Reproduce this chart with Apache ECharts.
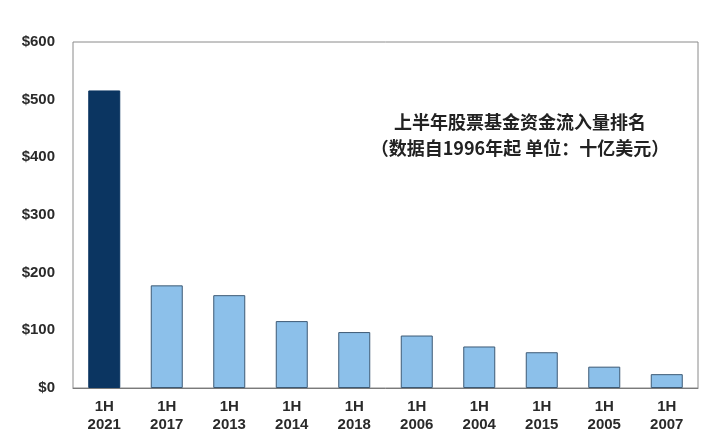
<!DOCTYPE html>
<html>
<head>
<meta charset="utf-8">
<script src="https://cdn.jsdelivr.net/npm/echarts@6/dist/echarts.min.js"></script>
<style>html,body{margin:0;padding:0;background:#fff}#c{width:715px;height:442px}</style>
</head>
<body>
<div id="c"></div>
<script>
var categories = ['1H\n2021','1H\n2017','1H\n2013','1H\n2014','1H\n2018','1H\n2006','1H\n2004','1H\n2015','1H\n2005','1H\n2007'];
var inflows = [516, 178, 161, 116, 97, 91, 72, 62, 37, 24];
var yTicks = [0, 100, 200, 300, 400, 500, 600];
var highlightIndex = 0;

var chart = echarts.init(document.getElementById('c'));
chart.setOption({
  backgroundColor: '#fff',
  animation: false,
  title: {
    text: '上半年股票基金资金流入量排名\n（数据自1996年起 单位：十亿美元）',
    left: 515, top: 104, textAlign: 'center',
    textStyle: {
      fontFamily: '"Noto Sans CJK SC", sans-serif', fontWeight: 'bold',
      fontSize: 18, lineHeight: 26, color: '#222'
    }
  },
  grid: {
    left: 73, right: 17, top: 42, bottom: 54,
    show: true, borderColor: '#8a8a8a', borderWidth: 1, backgroundColor: '#fff'
  },
  xAxis: {
    type: 'category',
    data: categories,
    axisLine: { show: true, lineStyle: { color: '#7a7a7a', width: 1 } },
    axisTick: { show: false },
    axisLabel: {
      margin: 10, fontFamily: 'Liberation Sans, Arial, sans-serif', fontWeight: 'bold',
      fontSize: 15, lineHeight: 18, color: '#2a2a2a', interval: 0
    }
  },
  yAxis: {
    type: 'value', min: yTicks[0], max: yTicks[yTicks.length - 1], interval: 100,
    splitLine: { show: false },
    axisLine: { show: false }, axisTick: { show: false },
    axisLabel: {
      margin: 18, fontFamily: 'Liberation Sans, Arial, sans-serif', fontWeight: 'bold',
      fontSize: 15, color: '#2a2a2a',
      formatter: function (v) { return '$' + v; }
    }
  },
  series: [{
    type: 'bar',
    data: inflows.map(function (v, i) {
      return i === highlightIndex
        ? { value: v, itemStyle: { color: '#0b3561', borderColor: '#0b3561' } }
        : { value: v };
    }),
    barWidth: 32,
    itemStyle: { color: '#8cc0ea', borderColor: '#3d5a75', borderWidth: 1 }
  }]
});
</script>
</body>
</html>
